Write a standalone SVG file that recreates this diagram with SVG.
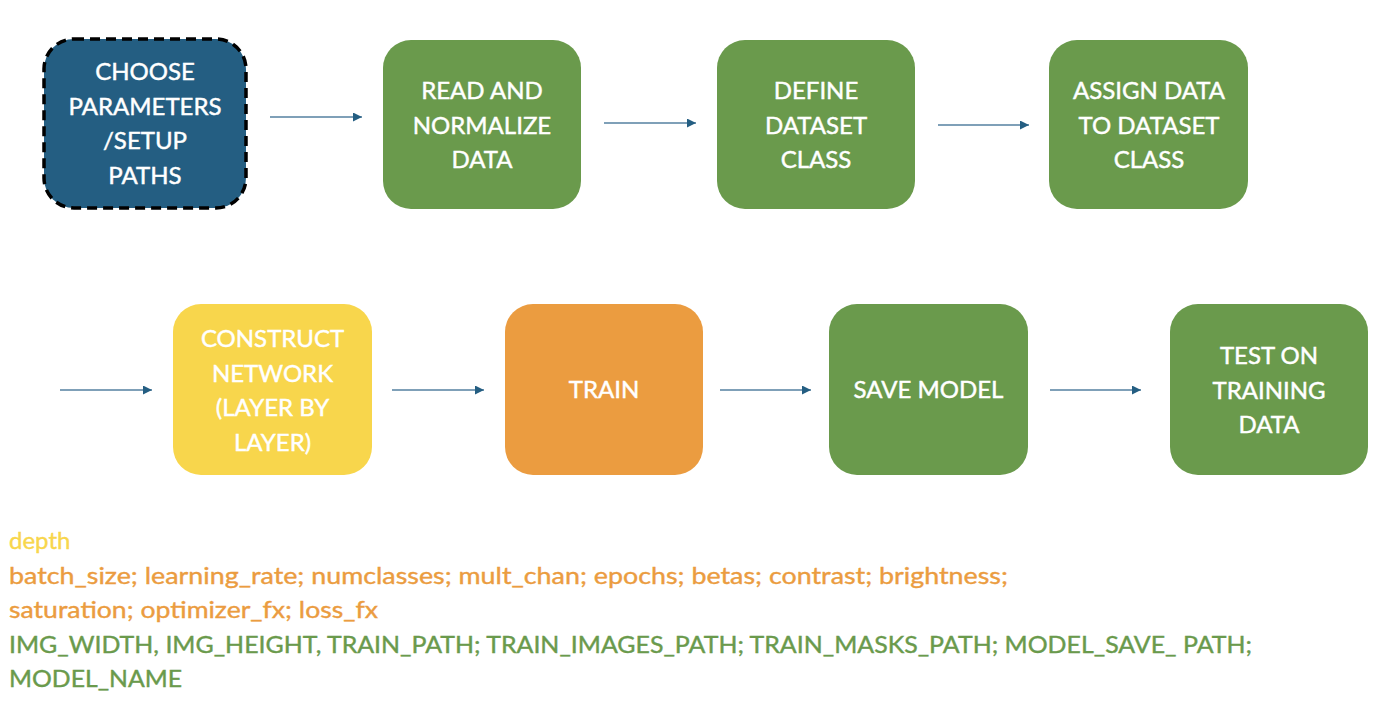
<svg xmlns="http://www.w3.org/2000/svg" width="1388" height="702" viewBox="0 0 1388 702">
<defs>
<marker id="ah" viewBox="0 0 10 10" refX="10" refY="5" markerWidth="9" markerHeight="9" markerUnits="userSpaceOnUse" orient="auto">
<path d="M0,0 L10,5 L0,10 Z" fill="#245e82"/>
</marker>
<style>
.lbl{font-family:Lato,"Open Sans","Liberation Sans",sans-serif;font-size:24px;fill:#ffffff;stroke:#ffffff;stroke-width:0.45;text-anchor:middle}
.note{font-family:Lato,"Open Sans","Liberation Sans",sans-serif;font-size:24px;stroke-width:0.4}
.green{fill:#6a9a4c}
.edge{stroke:#7fa0b8;stroke-width:2;fill:none;marker-end:url(#ah)}
</style>
</defs>
<rect width="1388" height="702" fill="#ffffff"/>
<g id="n1">
<rect x="44" y="39" width="202" height="169" rx="30" fill="#245e82" stroke="#000" stroke-width="3.5" stroke-dasharray="10 6"/>
<text class="lbl" x="145" y="80">CHOOSE</text>
<text class="lbl" x="145" y="114.5">PARAMETERS</text>
<text class="lbl" x="145" y="149">/SETUP</text>
<text class="lbl" x="145" y="183.5">PATHS</text>
</g>
<g id="n2">
<rect class="green" x="383" y="40" width="198" height="169" rx="28"/>
<text class="lbl" x="482" y="99">READ AND</text>
<text class="lbl" x="482" y="133.5">NORMALIZE</text>
<text class="lbl" x="482" y="168">DATA</text>
</g>
<g id="n3">
<rect class="green" x="717" y="40" width="198" height="169" rx="28"/>
<text class="lbl" x="816" y="99">DEFINE</text>
<text class="lbl" x="816" y="133.5">DATASET</text>
<text class="lbl" x="816" y="168">CLASS</text>
</g>
<g id="n4">
<rect class="green" x="1049" y="40" width="199" height="169" rx="28"/>
<text class="lbl" x="1149" y="99">ASSIGN DATA</text>
<text class="lbl" x="1149" y="133.5">TO DATASET</text>
<text class="lbl" x="1149" y="168">CLASS</text>
</g>
<g id="n5">
<rect x="173" y="304" width="199" height="171" rx="28" fill="#f8d64c"/>
<text class="lbl" x="272.5" y="347">CONSTRUCT</text>
<text class="lbl" x="272.5" y="381.5">NETWORK</text>
<text class="lbl" x="272.5" y="416">(LAYER BY</text>
<text class="lbl" x="272.5" y="450.5">LAYER)</text>
</g>
<g id="n6">
<rect x="505" y="304" width="198" height="171" rx="28" fill="#eb9c40"/>
<text class="lbl" x="604" y="398">TRAIN</text>
</g>
<g id="n7">
<rect class="green" x="829" y="304" width="199" height="171" rx="28"/>
<text class="lbl" x="928.5" y="398">SAVE MODEL</text>
</g>
<g id="n8">
<rect class="green" x="1170" y="304" width="198" height="171" rx="28"/>
<text class="lbl" x="1269" y="364">TEST ON</text>
<text class="lbl" x="1269" y="398.5">TRAINING</text>
<text class="lbl" x="1269" y="433">DATA</text>
</g>
<g id="edges">
<line class="edge" x1="270" y1="117" x2="362" y2="117"/>
<line class="edge" x1="604" y1="123" x2="696" y2="123"/>
<line class="edge" x1="938" y1="125" x2="1029" y2="125"/>
<line class="edge" x1="60" y1="390" x2="152" y2="390"/>
<line class="edge" x1="392" y1="390" x2="484" y2="390"/>
<line class="edge" x1="720" y1="390" x2="811" y2="390"/>
<line class="edge" x1="1050" y1="390" x2="1141" y2="390"/>
</g>
<g id="notes">
<text class="note" x="9" y="549" fill="#f8d64c" stroke="#f8d64c">depth</text>
<text class="note" x="9" y="583.5" fill="#eb9c40" stroke="#eb9c40" textLength="999" lengthAdjust="spacingAndGlyphs">batch_size; learning_rate; numclasses; mult_chan; epochs; betas; contrast; brightness;</text>
<text class="note" x="9" y="618" fill="#eb9c40" stroke="#eb9c40" textLength="369" lengthAdjust="spacingAndGlyphs">saturation; optimizer_fx; loss_fx</text>
<text class="note" x="9" y="652.5" fill="#6a9a4c" stroke="#6a9a4c" textLength="1243" lengthAdjust="spacingAndGlyphs">IMG_WIDTH, IMG_HEIGHT, TRAIN_PATH; TRAIN_IMAGES_PATH; TRAIN_MASKS_PATH; MODEL_SAVE_ PATH;</text>
<text class="note" x="9" y="687" fill="#6a9a4c" stroke="#6a9a4c" textLength="173" lengthAdjust="spacingAndGlyphs">MODEL_NAME</text>
</g>
</svg>
